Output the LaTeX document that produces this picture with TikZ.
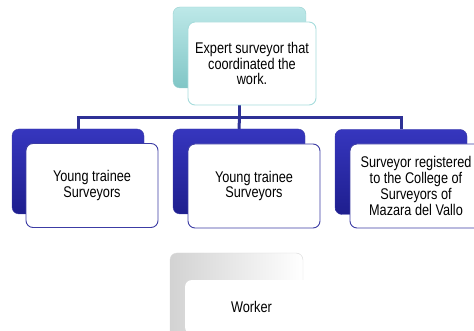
\documentclass[tikz,border=0pt]{standalone}
\usepackage{fontspec}
\setmainfont[FakeStretch=0.82]{Liberation Sans}
\usepackage{tikz}
\usetikzlibrary{backgrounds}

\definecolor{tealtop}{HTML}{BDE8E8}
\definecolor{tealbot}{HTML}{80C6C6}
\definecolor{tealline}{HTML}{A6DCDC}
\definecolor{bluetop}{HTML}{3636BE}
\definecolor{bluebot}{HTML}{1E1E8E}
\definecolor{blueline}{HTML}{3C3CA4}
\definecolor{linkblue}{HTML}{2E3196}

\begin{document}
\begin{tikzpicture}[x=1pt, y=-1pt,
    backbox/.style={rounded corners=7pt, minimum width=132pt, minimum height=85pt, inner sep=0pt},
    tealback/.style={backbox, top color=tealtop, bottom color=tealbot, draw=tealbot!80},
    blueback/.style={backbox, top color=bluetop, bottom color=bluebot, draw=blueline},
    greyback/.style={backbox, left color=gray!35, middle color=white, right color=white, draw=gray!30},
    frontbox/.style={rounded corners=7pt, fill=white, draw=blueline, line width=0.9pt,
        minimum width=132pt, minimum height=84pt, inner sep=2pt, align=center,
        font=\fontsize{15.5}{15.8}\selectfont},
    link/.style={draw=linkblue, line width=3pt}]
            \useasboundingbox (0,0) rectangle (474,331);

            % top
            \node[tealback, minimum width=133pt, minimum height=81pt] (expertback) at (239.5,47.5) {};
            \node[frontbox, draw=tealline, minimum width=128pt, minimum height=83pt] (expert) at (252,63.5)
                {Expert surveyor that\\coordinated the\\work.};

            % second row
            \node[blueback] (leftback) at (78,171.5) {};
            \node[frontbox] (traineeA) at (92,185.5) {Young trainee\\Surveyors};

            \node[blueback] (midback) at (239,171.5) {};
            \node[frontbox] (traineeB) at (254,186) {Young trainee\\Surveyors};

            \node[blueback] (rightback) at (401,172) {};
            \node[frontbox] (registered) at (416,186)
                {Surveyor registered\\to the College of\\Surveyors of\\Mazara del Vallo};

            % bottom
            \node[greyback, minimum width=133pt, minimum height=86pt] (workerback) at (236.5,296) {};
            \node[frontbox, draw=none, minimum width=133pt, minimum height=54pt] (worker) at (251.5,307) {Worker};

            \begin{pgfonlayer}{background}
                \draw[link] (expertback.south) -- ++(0,29) coordinate (bus);
                \draw[link] (bus) -| (leftback.north);
                \draw[link] (bus) -| (rightback.north);
                \draw[link] (bus) -- (midback.north);
            \end{pgfonlayer}

        \end{tikzpicture}
\end{document}
